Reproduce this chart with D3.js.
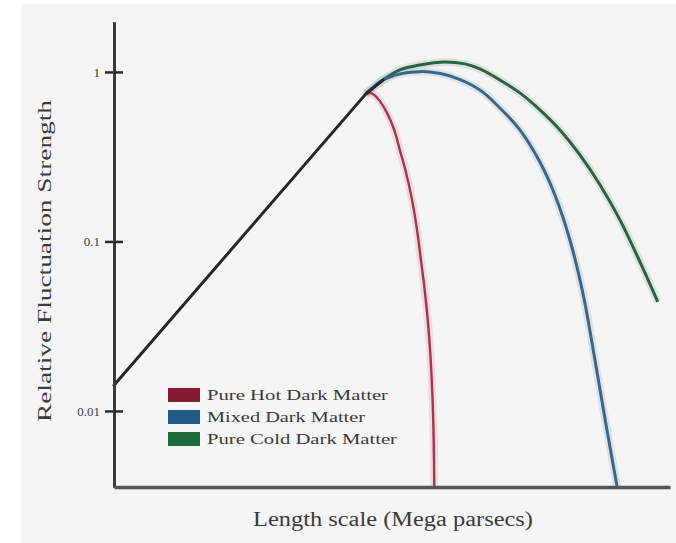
<!DOCTYPE html>
<html>
<head>
<meta charset="utf-8">
<script src="https://cdn.jsdelivr.net/npm/d3@7"></script>
<style>
  html, body { margin: 0; padding: 0; background: #fff; }
  svg { display: block; }
  text { font-family: "Liberation Serif", "DejaVu Serif", serif; fill: #3a3a3a; }
</style>
</head>
<body>
<svg id="chart" width="676" height="543"></svg>
<script>
// values; x is an unlabelled length scale (0-100 along the axis)
var yTicks = [1, 0.1, 0.01];
var yTickLabels = ["1", "0.1", "0.01"];

var riseLine = [[0, 0.0142], [45.3, 0.742], [48.4, 0.897]];

var hotDM = [[45.0, 0.725], [45.9, 0.752], [46.8, 0.732], [47.8, 0.675],
  [49.1, 0.573], [50.4, 0.455], [51.4, 0.347], [52.5, 0.257], [53.6, 0.176],
  [54.5, 0.117], [55.2, 0.0778], [55.9, 0.0510], [56.5, 0.0325], [56.95, 0.0202],
  [57.3, 0.0116], [57.5, 0.00674], [57.6, 0.00356]];

var mixedDM = [[45.3, 0.742], [48.4, 0.897], [51.4, 0.973], [54.1, 1.0], [56.8, 1.0],
  [60.4, 0.947], [65.8, 0.783], [69.4, 0.613], [73.0, 0.455], [76.6, 0.294],
  [79.3, 0.188], [82.0, 0.102], [84.4, 0.0483], [86.5, 0.0200], [88.5, 0.00827],
  [90.5, 0.00356]];

var coldDM = [[45.3, 0.742], [48.4, 0.897], [51.4, 1.028], [55.0, 1.10], [59.5, 1.146],
  [63.1, 1.115], [65.8, 1.042], [69.4, 0.897], [73.0, 0.752], [76.6, 0.597],
  [80.2, 0.455], [83.8, 0.324], [87.4, 0.216], [91.0, 0.134], [94.6, 0.0757],
  [97.8, 0.044]];

var seriesNames = ["Pure Hot Dark Matter", "Mixed Dark Matter", "Pure Cold Dark Matter"];
var seriesColors = ["#a8324f", "#3d6585", "#2f5f45"];
var swatchColors = ["#861a33", "#215a88", "#1d6a3c"];

var yTitle = "Relative Fluctuation Strength";
var xTitle = "Length scale (Mega parsecs)";

var svg = d3.select("#chart");

// grey panel, white strip left and top like the scan
svg.append("rect").attr("x", 21).attr("y", 4).attr("width", 655).attr("height", 539).attr("fill", "#f5f5f5");

var x = d3.scaleLinear().domain([0, 100]).range([114, 670]);
var y = d3.scaleLog().domain([0.00356, 1.97]).range([487, 22]);

var line = d3.line()
  .x(function(d) { return x(d[0]); })
  .y(function(d) { return y(d[1]); })
  .curve(d3.curveCatmullRom.alpha(0.5));

var straight = d3.line()
  .x(function(d) { return x(d[0]); })
  .y(function(d) { return y(d[1]); });

// curves, with a faint halo under each
var curves = [coldDM, mixedDM, hotDM];
var curveColors = [seriesColors[2], seriesColors[1], seriesColors[0]];
var widths = [3, 3, 2.4];
curves.forEach(function(c, i) {
  svg.append("path").attr("d", line(c)).attr("fill", "none")
    .attr("stroke", curveColors[i]).attr("stroke-opacity", 0.12).attr("stroke-width", 8);
});
curves.forEach(function(c, i) {
  svg.append("path").attr("d", line(c)).attr("fill", "none")
    .attr("stroke", curveColors[i]).attr("stroke-width", widths[i]);
});
svg.append("path").attr("d", straight(riseLine)).attr("fill", "none")
  .attr("stroke", "#262626").attr("stroke-width", 3)
  .attr("stroke-linecap", "round").attr("stroke-linejoin", "round");

// axes
var yAxis = d3.axisLeft(y).tickValues(yTicks)
  .tickFormat(function(d, i) { return yTickLabels[i]; })
  .tickSizeInner(9).tickSizeOuter(0).tickPadding(5);
var gy = svg.append("g").attr("transform", "translate(114,0)").call(yAxis);
var yAxisR = d3.axisRight(y).tickValues(yTicks).tickFormat("").tickSizeInner(9).tickSizeOuter(0);
var gyr = svg.append("g").attr("transform", "translate(114,0)").call(yAxisR);

[gy, gyr].forEach(function(g) {
  g.select(".domain").attr("stroke", "#3a3a3a").attr("stroke-width", 3);
  g.selectAll(".tick line").attr("stroke", "#2a2a2a").attr("stroke-width", 2.5);
});
gy.selectAll(".tick text")
  .style("font-family", '"Liberation Serif", serif').attr("font-size", 13).attr("fill", "#555");

var xAxis = d3.axisBottom(x).tickValues([]).tickSizeOuter(0);
var gx = svg.append("g").attr("transform", "translate(0,487)").call(xAxis);
gx.select(".domain").attr("stroke", "#555").attr("stroke-width", 3.5);

// titles
svg.append("text")
  .attr("transform", "translate(51,261) rotate(-90)")
  .attr("text-anchor", "middle")
  .attr("font-size", 19)
  .attr("textLength", 322).attr("lengthAdjust", "spacingAndGlyphs")
  .text(yTitle);

svg.append("text")
  .attr("x", 393).attr("y", 526)
  .attr("text-anchor", "middle")
  .attr("font-size", 20)
  .attr("textLength", 280).attr("lengthAdjust", "spacingAndGlyphs")
  .text(xTitle);

// legend
var legendW = [181, 158, 190];
var legend = svg.append("g").attr("transform", "translate(168,388)");
seriesNames.forEach(function(name, i) {
  var row = legend.append("g").attr("transform", "translate(0," + (i * 22) + ")");
  row.append("rect").attr("width", 32).attr("height", 14).attr("fill", swatchColors[i]);
  row.append("text").attr("x", 39).attr("y", 12)
    .attr("font-size", 15)
    .attr("textLength", legendW[i]).attr("lengthAdjust", "spacingAndGlyphs")
    .attr("fill", "#333")
    .text(name);
});
</script>
</body>
</html>
